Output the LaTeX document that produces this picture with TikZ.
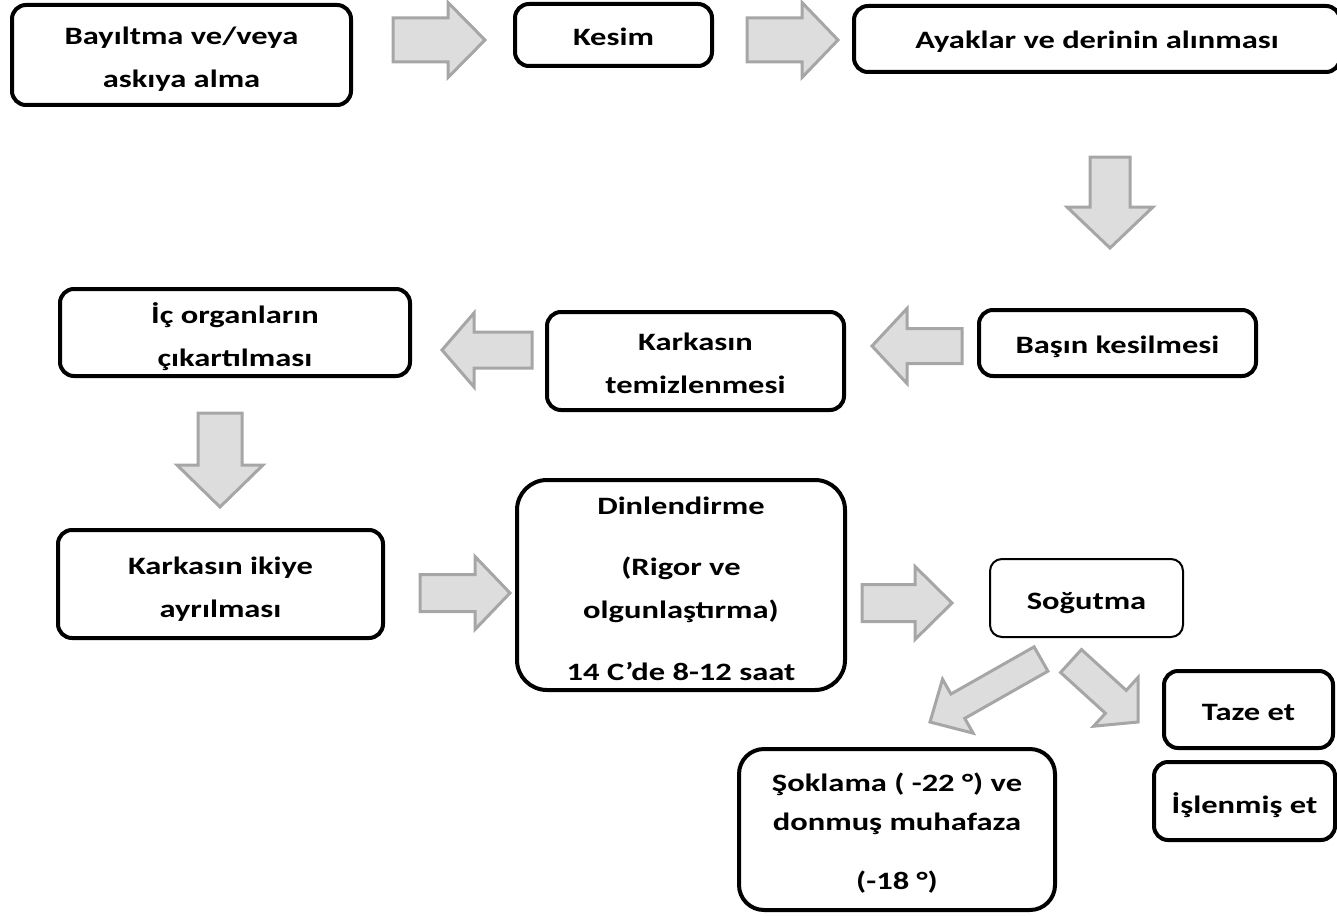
\documentclass[tikz,border=0pt]{standalone}
\usepackage{fontspec}
\setmainfont{Carlito}[FakeStretch=1.3]
\usetikzlibrary{calc}
\definecolor{arrfill}{RGB}{221,221,221}
\definecolor{arrline}{RGB}{166,166,166}
\tikzset{
  box/.style={draw=black, line width=4pt, rounded corners=14pt, fill=white, inner sep=0pt},
  thinbox/.style={box, line width=2pt, rounded corners=12pt},
  txt/.style={align=center, inner sep=0pt, font=\fontsize{25}{43}\selectfont\bfseries},
  blockarr/.style={draw=arrline, fill=arrfill, line width=3pt, line join=miter},
}
\newcommand{\barrow}[5]{%
  \path (#1) coordinate (bt) (#2) coordinate (bh);
  \path ($(bh)!#5!(bt)$) coordinate (bb);
  \draw[blockarr] ($(bt)!#3!90:(bh)$) -- ($(bb)!#3!-90:(bt)$) -- ($(bb)!#4!-90:(bt)$)
    -- (bh) -- ($(bb)!#4!90:(bt)$) -- ($(bb)!#3!90:(bt)$) -- ($(bt)!#3!-90:(bh)$) -- cycle;
}
\begin{document}
\begin{tikzpicture}[x=1pt,y=-1pt]
\useasboundingbox (0,0) rectangle (1337,915);
% boxes
\node[box, minimum width=339pt, minimum height=100pt] (bay) at (181.5,55) {};
\node[box, minimum width=197pt, minimum height=62pt] (kes) at (613.5,35) {};
\node[box, minimum width=486pt, minimum height=66pt] (aya) at (1097,39) {};
\node[box, minimum width=277pt, minimum height=66pt] (bas) at (1117.5,343) {};
\node[box, minimum width=297pt, minimum height=98pt] (tem) at (695.5,361) {};
\node[box, minimum width=350pt, minimum height=87pt] (ic) at (235,332.5) {};
\node[box, minimum width=325pt, minimum height=108pt] (iki) at (220.5,584) {};
\node[box, rounded corners=30pt, minimum width=328pt, minimum height=210pt] (din) at (681,585) {};
\node[thinbox, minimum width=193pt, minimum height=78pt] (sog) at (1086.5,598) {};
\node[box, minimum width=169pt, minimum height=77pt] (taz) at (1248.5,709.5) {};
\node[box, minimum width=181pt, minimum height=78pt] (isl) at (1244.5,801) {};
\node[box, rounded corners=25pt, minimum width=316pt, minimum height=161pt] (sok) at (897,829.5) {};
% texts
\node[txt] (bay-t) at ([yshift=-4pt]bay.center) {Bayıltma ve/veya\\askıya alma};
\node[txt] (kes-t) at ([yshift=-2pt]kes.center) {Kesim};
\node[txt] (aya-t) at ([yshift=-3pt]aya.center) {Ayaklar ve derinin alınması};
\node[txt] (bas-t) at ([yshift=-4pt]bas.center) {Başın kesilmesi};
\node[txt] (tem-t) at ([yshift=-2pt]tem.center) {Karkasın\\temizlenmesi};
\node[txt] (ic-t) at ([yshift=-4pt]ic.center) {İç organların\\çıkartılması};
\node[txt] (iki-t) at ([yshift=-5pt]iki.center) {Karkasın ikiye\\ayrılması};
\node[txt] (din-t) at ([yshift=-4pt]din.center)
  {Dinlendirme\\[18pt](Rigor ve\\olgunlaştırma)\\[19pt]14 C’de 8-12 saat};
\node[txt] (sog-t) at ([yshift=-5pt]sog.center) {Soğutma};
\node[txt] (taz-t) at ([yshift=-3pt]taz.center) {Taze et};
\node[txt] (isl-t) at ([yshift=-4pt]isl.center) {İşlenmiş et};
\node[txt] (sok-t) at ([yshift=-4pt]sok.center)
  {Şoklama ( -22 °) ve\\[-4pt]donmuş muhafaza\\[16pt](-18 °)};
% arrow end points
\coordinate (a1t) at (393,40);   \coordinate (a1h) at (485,40);
\coordinate (a2t) at (747,40);   \coordinate (a2h) at (838,40);
\coordinate (a3t) at (1110,157); \coordinate (a3h) at (1110,248);
\coordinate (a4t) at (962,346);  \coordinate (a4h) at (872,346);
\coordinate (a5t) at (532,350);  \coordinate (a5h) at (442,350);
\coordinate (a6t) at (220,413);  \coordinate (a6h) at (220,507);
\coordinate (a7t) at (420,593);  \coordinate (a7h) at (510,593);
\coordinate (a8t) at (862,603);  \coordinate (a8h) at (952,603);
\coordinate (a9t) at (1041,659); \coordinate (a9h) at (930,722);
\coordinate (a10t) at (1071,661); \coordinate (a10h) at (1138,722);
% block arrows
\barrow{a1t}{a1h}{22pt}{37.5pt}{37pt}
\barrow{a2t}{a2h}{22pt}{37.5pt}{36pt}
\barrow{a3t}{a3h}{20pt}{43pt}{41pt}
\barrow{a4t}{a4h}{17.5pt}{37.5pt}{35pt}
\barrow{a5t}{a5h}{18pt}{37pt}{32pt}
\barrow{a6t}{a6h}{22pt}{43pt}{42pt}
\barrow{a7t}{a7h}{18.5pt}{36.5pt}{35pt}
\barrow{a8t}{a8h}{18.5pt}{36.5pt}{37pt}
\barrow{a9t}{a9h}{14pt}{31pt}{32pt}
\barrow{a10t}{a10h}{15.5pt}{33pt}{30pt}
\end{tikzpicture}
\end{document}
